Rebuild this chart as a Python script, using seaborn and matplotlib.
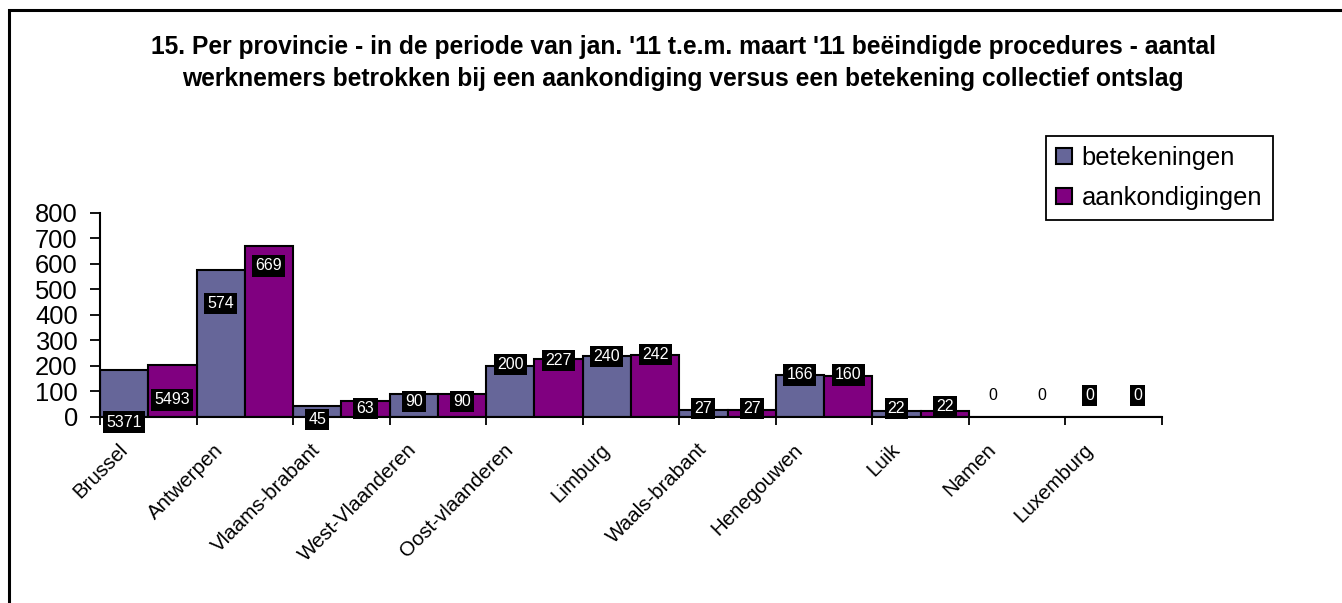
import numpy as np
import pandas as pd
import seaborn as sns
import matplotlib.pyplot as plt
from matplotlib.patches import Rectangle, Patch
from matplotlib.transforms import ScaledTranslation

provinces = ['Brussel', 'Antwerpen', 'Vlaams-brabant', 'West-Vlaanderen', 'Oost-vlaanderen',
             'Limburg', 'Waals-brabant', 'Henegouwen', 'Luik', 'Namen', 'Luxemburg']
series_names = ['betekeningen', 'aankondigingen']

# bar heights as drawn (Brussel bars are cut off in the original chart)
betekeningen = [186, 574, 45, 90, 200, 240, 27, 166, 22, 0, 0]
aankondigingen = [203, 669, 63, 90, 227, 242, 27, 160, 22, 0, 0]

# data labels as printed
labels_bet = ['5371', '574', '45', '90', '200', '240', '27', '166', '22', '0', '0']
labels_aan = ['5493', '669', '63', '90', '227', '242', '27', '160', '22', '0', '0']

# vertical centre of each data label (in data units)
label_pos_bet = [-20, 445, -9, 60, 206, 237, 34, 165, 34, 83, 83]
label_pos_aan = [67, 592, 34, 60, 221, 245, 34, 165, 42, 83, 83]
boxed_bet = [True] * 9 + [False, True]
boxed_aan = [True] * 9 + [False, True]

colors = ['#666699', '#800080']

df = pd.DataFrame({
    'provincie': provinces * 2,
    'reeks': [series_names[0]] * len(provinces) + [series_names[1]] * len(provinces),
    'aantal': betekeningen + aankondigingen,
})

sns.set_style('white')
plt.rcParams['font.family'] = ['Liberation Sans', 'DejaVu Sans']
plt.rcParams['text.color'] = 'black'
plt.rcParams['xtick.color'] = 'black'
plt.rcParams['ytick.color'] = 'black'

W, H = 1342, 603
fig = plt.figure(figsize=(W / 100, H / 100), dpi=100)
ax = fig.add_axes([100 / W, 1 - 417 / H, (1162 - 100) / W, (417 - 212.7) / H])

sns.barplot(data=df, x='provincie', y='aantal', hue='reeks', order=provinces,
            hue_order=series_names, palette=colors, saturation=1, width=1.0, gap=0,
            edgecolor='black', linewidth=1.5, ax=ax, legend=False)

ax.set_ylim(0, 800)
ax.set_xlim(-0.5, len(provinces) - 0.5)
ax.set_yticks(range(0, 801, 100))
ax.tick_params(axis='y', labelsize=18.4, length=7, width=1.3, direction='out', left=True, pad=9,
               colors='black')
ax.set_xticks(range(len(provinces)))
ax.set_xticklabels(provinces, rotation=45, ha='right', va='center', rotation_mode='anchor',
                   fontsize=14.8, color='black')
ax.tick_params(axis='x', length=0, pad=12)
shift = ScaledTranslation(-0.24, -0.13, fig.dpi_scale_trans)
for lab in ax.get_xticklabels():
    lab.set_transform(lab.get_transform() + shift)
# tick marks between categories
ax.set_xticks(np.arange(-0.5, len(provinces), 1.0), minor=True)
ax.tick_params(axis='x', which='minor', length=6, width=1.3, direction='out', bottom=True)
ax.set_xlabel('')
ax.set_ylabel('')
for side in ['top', 'right']:
    ax.spines[side].set_visible(False)
for side in ['left', 'bottom']:
    ax.spines[side].set_color('black')
    ax.spines[side].set_linewidth(1.5)
ax.patch.set_visible(False)

for cont, labs, pos, boxed in zip(ax.containers, [labels_bet, labels_aan],
                                  [label_pos_bet, label_pos_aan], [boxed_bet, boxed_aan]):
    for bar, lab, y, b in zip(cont, labs, pos, boxed):
        xc = bar.get_x() + bar.get_width() / 2
        if b:
            ax.text(xc, y, lab, ha='center', va='center', fontsize=11.5, color='white', clip_on=False,
                    bbox=dict(boxstyle='square,pad=0.2', fc='black', ec='none'))
        else:
            ax.text(xc, y, lab, ha='center', va='center', fontsize=11.5, color='black', clip_on=False)

handles = [Patch(facecolor=c, edgecolor='black', linewidth=1.5, label=n) for c, n in zip(colors, series_names)]
leg = fig.legend(handles=handles, loc='upper left', bbox_to_anchor=(1046 / W, 1 - 136 / H),
                 fontsize=18.4, frameon=True, fancybox=False, edgecolor='black', framealpha=1,
                 handlelength=0.6, handleheight=0.6, handletextpad=0.4, borderpad=0.4,
                 labelspacing=0.62, borderaxespad=0)
leg.get_frame().set_linewidth(1.3)
for t in leg.get_texts():
    t.set_color('black')

fig.text(683 / W, 1 - 63 / H,
         "15. Per provincie - in de periode van jan. '11 t.e.m. maart '11 beëindigde procedures - aantal\n"
         "werknemers betrokken bij een aankondiging versus een betekening collectief ontslag",
         ha='center', va='center', fontsize=17.7, fontweight='bold', linespacing=1.38, color='black')

# outer chart frame (only left and top edges are inside the image)
fig.patches.append(Rectangle((9 / W, -0.1), 1.2, 1 - 10 / H + 0.1, transform=fig.transFigure,
                             fill=False, edgecolor='black', linewidth=2.2))

fig.savefig('out.png', dpi=100)
